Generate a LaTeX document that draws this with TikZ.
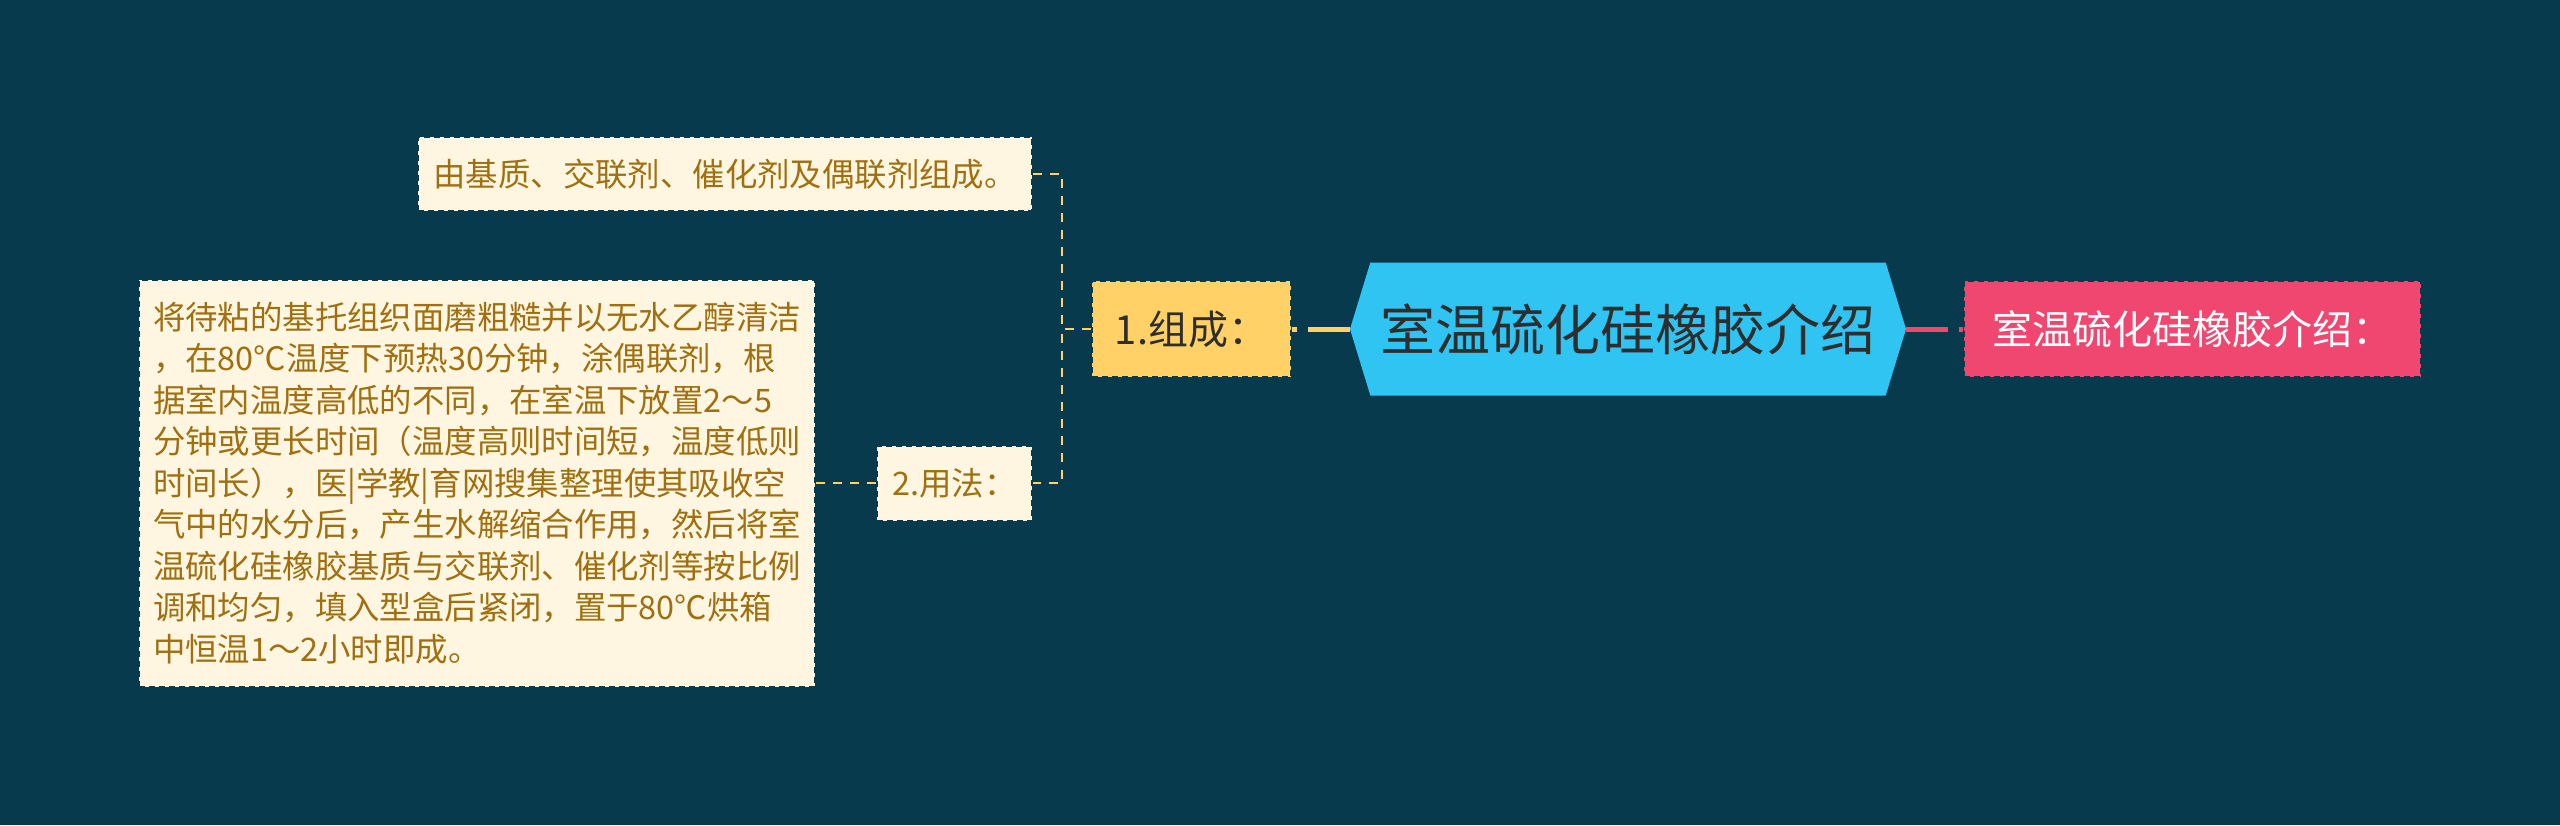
\documentclass[tikz,border=0pt]{standalone}
\usepackage{fontspec}
\newfontfamily\cjk{Noto Sans CJK SC}
\usetikzlibrary{shapes.symbols}
\definecolor{bg}{HTML}{083A4D}
\definecolor{cream}{HTML}{FEF6E1}
\definecolor{gold}{HTML}{A07010}
\definecolor{yel}{HTML}{FFD166}
\definecolor{rose}{HTML}{EF476F}
\definecolor{sky}{HTML}{30C4F3}
\definecolor{ink}{HTML}{2E2E2E}
\tikzset{
  box/.style={draw=bg, line width=2pt, dash pattern=on 6pt off 4pt, inner sep=0pt},
  leaf/.style={box, fill=cream, text=gold, font=\cjk\fontsize{32.4}{41.5}\selectfont},
  thinlink/.style={draw=yel, line width=2pt, dash pattern=on 9pt off 8pt},
  thicklink/.style={line width=5pt, dash pattern=on 42pt off 11pt},
}
\begin{document}
\begin{tikzpicture}[x=1pt,y=-1pt]
\fill[bg] (0,0) rectangle (2560,825);
\useasboundingbox (0,0) rectangle (2560,825);

\node[signal, signal to=west and east, signal pointer angle=146, fill=sky, text=ink,
      minimum width=556pt, minimum height=133pt, inner sep=0pt,
      font=\cjk\fontsize{55}{66}\selectfont] (hex) at (1628,329) {室温硫化硅橡胶介绍};

\node[box, fill=yel, text=ink, minimum width=199pt, minimum height=96pt,
      font=\cjk\fontsize{40}{48}\selectfont] (one) at (1191.5,329) {1.组成：};

\node[box, fill=rose, text=white, minimum width=457pt, minimum height=96pt,
      font=\cjk\fontsize{40}{48}\selectfont] (red) at (2192.5,329) {室温硫化硅橡胶介绍：};

\node[leaf, minimum width=614pt, minimum height=74pt] (top) at (725,174) {由基质、交联剂、催化剂及偶联剂组成。};

\node[leaf, minimum width=155pt, minimum height=75pt] (use) at (954.5,483) {2.用法：};

\node[leaf, minimum width=676pt, minimum height=407pt, align=left] (big) at (477,483)
{将待粘的基托组织面磨粗糙并以无水乙醇清洁\\
，在80℃温度下预热30分钟，涂偶联剂，根\\
据室内温度高低的不同，在室温下放置2～5\\
分钟或更长时间（温度高则时间短，温度低则\\
时间长），医|学教|育网搜集整理使其吸收空\\
气中的水分后，产生水解缩合作用，然后将室\\
温硫化硅橡胶基质与交联剂、催化剂等按比例\\
调和均匀，填入型盒后紧闭，置于80℃烘箱\\
中恒温1～2小时即成。};

\draw[thicklink, yel] (hex.west) -- (one.east);
\draw[thicklink, rose] (hex.east) -- (red.west);
\draw[thinlink] (one.west) -- ++(-29,0) |- (top.east);
\draw[thinlink] (one.west) -- ++(-29,0) |- (use.east);
\draw[thinlink] (use.west) -- (big.east);
\end{tikzpicture}
\end{document}
